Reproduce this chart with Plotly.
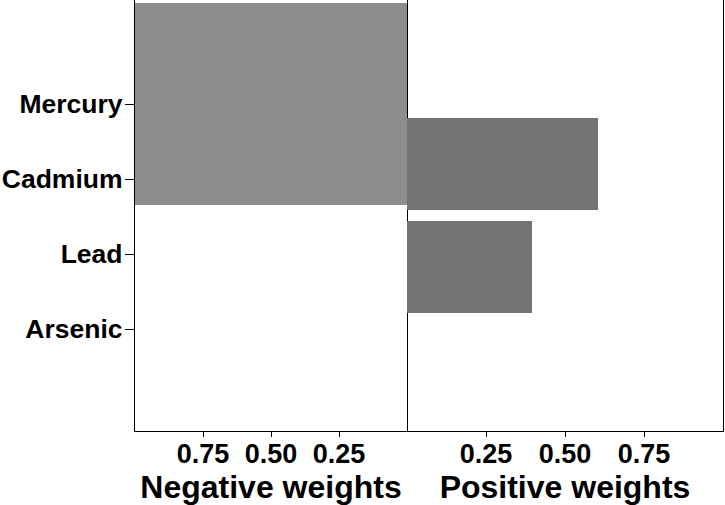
import plotly.graph_objects as go

metals = ["Arsenic", "Lead", "Cadmium", "Mercury"]
neg_metals = ["Mercury"]
neg_weights = [1.0]
pos_metals = ["Cadmium", "Lead"]
pos_weights = [0.603, 0.397]
tick_vals = [0.25, 0.50, 0.75]
tick_text = ["0.25", "0.50", "0.75"]

W, H = 725, 505
x0, xm, x1 = 135, 407, 723
ybot = 431

font = dict(family="Liberation Sans, Arial, sans-serif", color="black", weight="bold")

fig = go.Figure()
fig.add_trace(go.Bar(x=neg_weights, y=neg_metals, orientation="h", width=2.69,
                     marker=dict(color="#8d8d8d", line=dict(width=0)),
                     xaxis="x", yaxis="y", showlegend=False))
fig.add_trace(go.Bar(x=pos_weights, y=pos_metals, orientation="h", width=0.9,
                     marker=dict(color="#747474", line=dict(width=0)),
                     xaxis="x2", yaxis="y2", showlegend=False))

axline = dict(showline=True, linecolor="black", linewidth=1.4, showgrid=False, zeroline=False)
ydom = [(H - ybot) / H, 1.0]

fig.update_layout(
    width=W, height=H,
    margin=dict(l=0, r=0, t=0, b=0),
    plot_bgcolor="white", paper_bgcolor="white",
    bargap=0,
    xaxis=dict(domain=[x0 / W, xm / W], range=[1, 0], anchor="y",
               tickvals=tick_vals, ticktext=tick_text, ticks="outside", ticklen=5,
               tickcolor="black", tickwidth=1.4, ticklabelstandoff=-7,
               tickfont=dict(size=27, **font), automargin=False,
               title=dict(text="Negative weights", font=dict(size=32, **font), standoff=3),
               **axline),
    yaxis=dict(domain=ydom, type="category", categoryorder="array", categoryarray=metals,
               range=[-1.36, 4.387], anchor="x", mirror=True,
               ticks="outside", ticklen=9, tickcolor="black", tickwidth=1.4,
               ticklabelstandoff=-3,
               tickfont=dict(size=26.5, **font), automargin=False, **axline),
    xaxis2=dict(domain=[xm / W, x1 / W], range=[0, 1], anchor="y2",
                tickvals=tick_vals, ticktext=tick_text, ticks="outside", ticklen=5,
                tickcolor="black", tickwidth=1.4, ticklabelstandoff=-7,
                tickfont=dict(size=27, **font), automargin=False,
                title=dict(text="Positive weights", font=dict(size=32, **font), standoff=3),
                **axline),
    yaxis2=dict(domain=ydom, type="category", categoryorder="array", categoryarray=metals,
                range=[-0.6, 3.6], anchor="x2", side="right", mirror=False,
                showticklabels=False, ticks="", automargin=False, **axline),
)

fig.write_html("out.html", config={"displayModeBar": False},
               post_script="document.body.style.margin='0';document.body.style.overflow='hidden';")
